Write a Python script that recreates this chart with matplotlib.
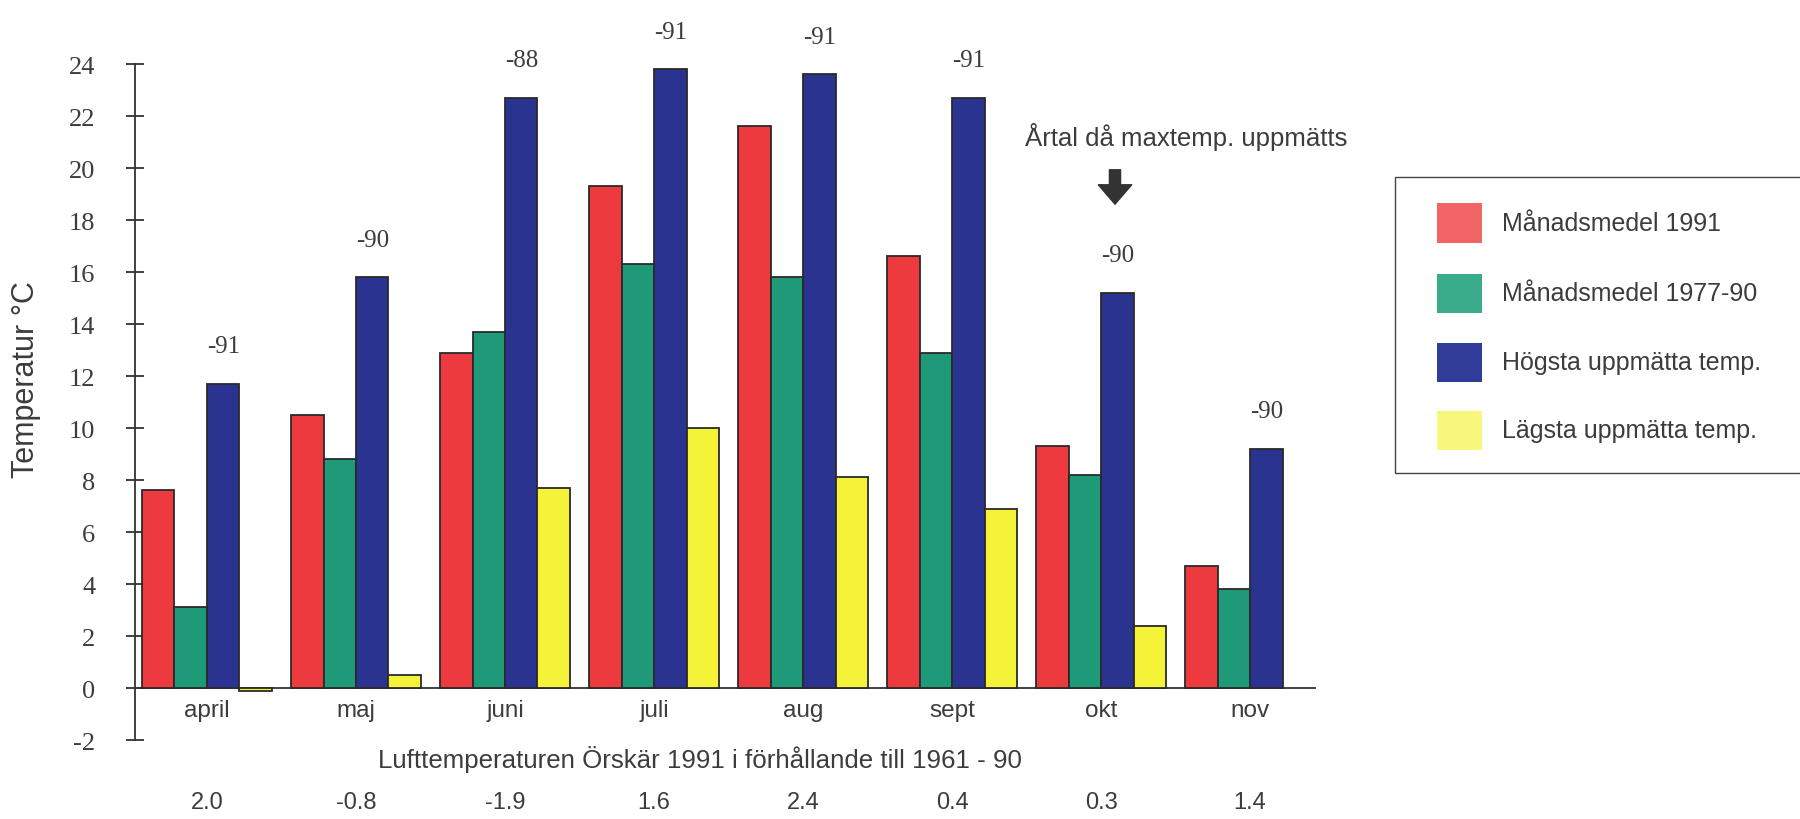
import numpy as np
import matplotlib
matplotlib.use("Agg")
import matplotlib.pyplot as plt
import matplotlib.transforms as mtransforms
from matplotlib.patches import Rectangle

# Monthly air temperatures at Örskär
months = ["april", "maj", "juni", "juli", "aug", "sept", "okt", "nov"]
mean_1991 = [7.6, 10.5, 12.9, 19.3, 21.6, 16.6, 9.3, 4.7]
mean_1977_90 = [3.1, 8.8, 13.7, 16.3, 15.8, 12.9, 8.2, 3.8]
highest = [11.7, 15.8, 22.7, 23.8, 23.6, 22.7, 15.2, 9.2]
lowest = [-0.1, 0.5, 7.7, 10.0, 8.1, 6.9, 2.4, np.nan]
highest_year = ["-91", "-90", "-88", "-91", "-91", "-91", "-90", "-90"]
anomaly_1991 = ["2.0", "-0.8", "-1.9", "1.6", "2.4", "0.4", "0.3", "1.4"]

series_names = ["Månadsmedel 1991", "Månadsmedel 1977-90",
                "Högsta uppmätta temp.", "Lägsta uppmätta temp."]
bar_colors = ["#ec3a3e", "#1f9a78", "#2a3490", "#f5f23a"]
legend_colors = ["#f26466", "#3aac8c", "#2f3c98", "#f8f67c"]

TEXT = "#3c3c3c"
SANS = "Liberation Sans"
SERIF = "Liberation Serif"

W, H = 1800, 820
fig = plt.figure(figsize=(W / 100, H / 100), dpi=100)
ax = fig.add_axes([0.075, 0.0963, 0.6556, 0.8244])

x = np.arange(len(months))
w = 0.218
series = [mean_1991, mean_1977_90, highest, lowest]
for k, (vals, col) in enumerate(zip(series, bar_colors)):
    ax.bar(x + (k - 1.5) * w, vals, width=w, color=col,
           edgecolor="#2a2a2a", linewidth=1.3, zorder=3)

# year of the highest recorded temperature above each blue bar
for xi, h, yr in zip(x, highest, highest_year):
    ax.annotate(yr, (xi + 0.5 * w, h), xytext=(0, 27),
                textcoords="offset points", ha="center", va="center",
                fontsize=18, family=SERIF, color=TEXT)

# baseline at zero (set before the tick labels, it resets the ticks)
for side in ("top", "right"):
    ax.spines[side].set_visible(False)
ax.spines["bottom"].set_position(("data", 0))
ax.spines["bottom"].set_color("#333333")
ax.spines["bottom"].set_linewidth(1.3)
ax.spines["left"].set_color("#333333")
ax.spines["left"].set_linewidth(1.3)

ax.set_xlim(-0.483, 7.436)
ax.set_ylim(-2, 24)
ax.set_yticks(np.arange(-2, 25, 2))
ax.set_yticklabels([str(v) for v in range(-2, 25, 2)],
                   family=SERIF, fontsize=19, color=TEXT)
ax.tick_params(axis="y", direction="inout", length=13, width=1.3,
               pad=22, colors="#333333", labelcolor=TEXT)

ax.set_xticks(x)
ax.set_xticklabels(months, family=SANS, fontsize=17.5, color=TEXT)
ax.tick_params(axis="x", length=0, pad=8)

fig.text(26 / W, 1 - 380 / H, "Temperatur °C", rotation=90, ha="center",
         va="center", family=SANS, fontsize=22, color=TEXT)

fig.text(700 / W, 1 - 760 / H,
         "Lufttemperaturen Örskär 1991 i förhållande till 1961 - 90",
         ha="center", va="center", family=SANS, fontsize=18.6, color=TEXT)

blend = mtransforms.blended_transform_factory(ax.transData, fig.transFigure)
for xi, a in zip(x, anomaly_1991):
    ax.text(xi, 1 - 803 / H, a, transform=blend, ha="center",
            va="center", family=SANS, fontsize=17, color=TEXT,
            clip_on=False)

# note pointing at the year labels
fig.text(1025 / W, 1 - 137 / H, "Årtal då maxtemp. uppmätts",
         ha="left", va="center", family=SANS, fontsize=18.5, color=TEXT)
ax.annotate("", xy=(1115, H - 208), xytext=(1115, H - 168),
            xycoords="figure pixels", textcoords="figure pixels",
            arrowprops=dict(arrowstyle="simple,head_length=0.7,head_width=1.2,tail_width=0.4",
                            color="#333333", mutation_scale=20))

# legend box, open towards the right edge
box_left, box_top, box_bottom = 1395, 178, 474
fig.patches.append(Rectangle((box_left / W, 1 - box_bottom / H),
                             (W + 20 - box_left) / W, (box_bottom - box_top) / H,
                             transform=fig.transFigure, facecolor="white",
                             edgecolor="#444444", linewidth=1.0, zorder=1))
item_y = [224, 294, 363, 431]
for yc, col, name in zip(item_y, legend_colors, series_names):
    fig.patches.append(Rectangle((1437 / W, 1 - (yc + 19.5) / H), 45 / W, 39 / H,
                                 transform=fig.transFigure, facecolor=col,
                                 edgecolor="none", zorder=2))
    fig.text(1502 / W, 1 - yc / H, name, ha="left", va="center",
             family=SANS, fontsize=18, color=TEXT, zorder=3)

fig.savefig("out.png", dpi=100, facecolor="white")
